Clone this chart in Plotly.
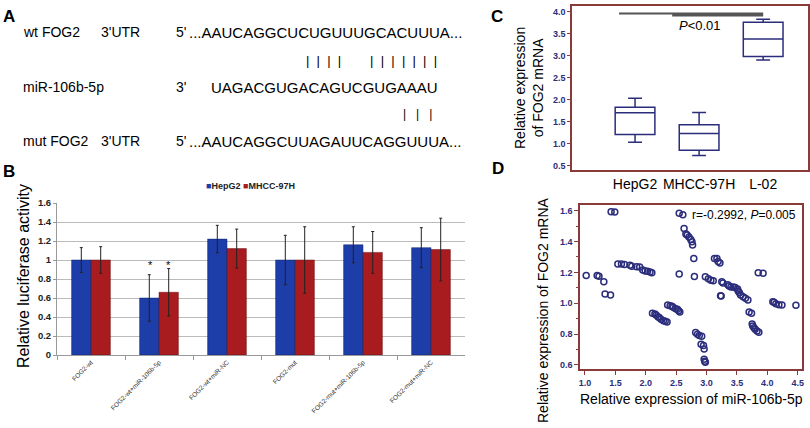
import plotly.graph_objects as go

W, H = 810, 428
FONT = "Arial, Liberation Sans, sans-serif"
NAVY = "#2B2D7C"
BROWN = "#8B3A3A"
BLUE = "#1D3DA8"
RED = "#A81C20"

# ---- panel A: sequence alignment text
a_labels = ["wt FOG2", "miR-106b-5p", "mut FOG2"]
a_utr = ["3'UTR", "", "3'UTR"]
a_ends = ["5'", "3'", "5'"]
a_seqs = ["...AAUCAGGCUCUGUUUGCACUUUA...",
          "UAGACGUGACAGUCGUGAAAU",
          "...AAUCAGGCUUAGAUUCAGGUUUA..."]

# ---- panel B: luciferase activity
groups = ["FOG2-wt", "FOG2-wt+miR-106b-5p", "FOG2-wt+miR-NC",
          "FOG2-mut", "FOG2-mut+miR-106b-5p", "FOG2-mut+miR-NC"]
hepg2 = [1.0, 0.60, 1.22, 1.0, 1.16, 1.13]
hepg2_err = [0.13, 0.245, 0.145, 0.26, 0.19, 0.21]
mhcc = [1.0, 0.66, 1.12, 1.0, 1.08, 1.11]
mhcc_err = [0.14, 0.25, 0.205, 0.35, 0.22, 0.33]
sig = ["", "*", "", "", "", ""]

# ---- panel C: FOG2 mRNA in cell lines
cells = ["HepG2", "MHCC-97H", "L-02"]
c_low = [1.03, 0.73, 2.90]
c_q1 = [1.21, 0.85, 2.98]
c_med = [1.70, 1.23, 3.38]
c_q3 = [1.83, 1.43, 3.76]
c_high = [2.03, 1.71, 3.83]

# ---- panel D: correlation
mir = [1.02, 1.20, 1.23, 1.31, 1.33, 1.42, 1.43, 1.49,
       1.54, 1.60, 1.65, 1.74, 1.77, 1.85, 1.90, 1.95, 1.99, 2.03, 2.07, 2.10,
       2.11, 2.15, 2.17, 2.20, 2.22, 2.25, 2.29, 2.32, 2.35,
       2.36, 2.40, 2.43, 2.45, 2.49, 2.52, 2.54, 2.56,
       2.55, 2.61, 2.63, 2.66, 2.68, 2.71, 2.74, 2.76, 2.77, 2.55, 2.79, 2.80,
       2.82, 2.85, 2.88, 2.92, 2.91, 2.95, 2.96, 2.96, 2.97, 2.98,
       2.98, 3.03, 3.07, 3.11,
       3.13, 3.17, 3.19, 3.22, 3.23, 3.24, 3.25, 3.27,
       3.35, 3.37, 3.40, 3.44, 3.47, 3.51, 3.52, 3.54, 3.56, 3.60, 3.64, 3.68,
       3.70, 3.74,
       3.75, 3.76, 3.78, 3.80, 3.83, 3.86,
       3.85, 3.93,
       4.09, 4.11, 4.14, 4.19, 4.24, 4.47]
fog2 = [1.18, 1.18, 1.175, 1.14, 1.06, 1.054, 1.594, 1.592,
        1.255, 1.255, 1.252, 1.246, 1.24, 1.237, 1.235, 1.216, 1.21, 1.207, 1.203, 1.198,
        0.935, 0.93, 0.924, 0.913, 0.907, 0.896, 0.887, 0.883, 0.879,
        0.989, 0.984, 0.98, 0.974, 0.965, 0.961, 0.952, 0.943,
        1.583, 1.574, 1.485, 1.449, 1.442, 1.429, 1.414, 1.399, 1.378, 1.19, 1.29, 1.173,
        0.811, 0.799, 0.791, 0.787, 0.735, 0.726, 0.703, 0.638, 0.625, 0.617,
        1.172, 1.159, 1.15, 1.146,
        1.29, 1.29, 1.27, 1.261, 1.049, 1.047, 1.14, 1.131,
        1.12, 1.112, 1.106, 1.106, 1.103, 1.092, 1.079, 1.068, 1.054, 1.043, 1.032, 1.021,
        0.943, 0.935,
        0.866, 0.853, 0.842, 0.831, 0.82, 0.812,
        1.198, 1.194,
        1.01, 1.006, 0.997, 0.991, 0.989, 0.987]


def px(x):
    return x / W


def py(y):
    return 1 - y / H


def txt(x, y, text, size, anchor="center", **kw):
    # free text placed by pixel position on the page
    return dict(x=px(x), y=py(y), xref="paper", yref="paper", text=text,
                xanchor=anchor, yanchor="middle", showarrow=False, borderpad=0,
                font=dict(size=size, family=FONT, color=kw.pop("color", "black"),
                          weight=kw.pop("weight", "normal")), **kw)


fig = go.Figure()

# bars
fig.add_trace(go.Bar(x=groups, y=hepg2, name="HepG2", showlegend=False,
                     marker=dict(color=BLUE, line=dict(color="#10246E", width=0.5)),
                     error_y=dict(type="data", array=hepg2_err, color="#222", thickness=1, width=1.5),
                     xaxis="x", yaxis="y"))
fig.add_trace(go.Bar(x=groups, y=mhcc, name="MHCC-97H", showlegend=False,
                     marker=dict(color=RED, line=dict(color="#6B1012", width=0.5)),
                     error_y=dict(type="data", array=mhcc_err, color="#222", thickness=1, width=1.5),
                     xaxis="x", yaxis="y"))

# boxes
fig.add_trace(go.Box(x=cells, lowerfence=c_low, q1=c_q1, median=c_med, q3=c_q3,
                     upperfence=c_high, width=0.62, whiskerwidth=0.35,
                     line=dict(color=NAVY, width=1.5), fillcolor="white",
                     showlegend=False, xaxis="x2", yaxis="y2"))

# scatter
fig.add_trace(go.Scatter(x=mir, y=fog2, mode="markers",
                         marker=dict(symbol="circle-open", size=6, color=NAVY,
                                     line=dict(width=1.5, color=NAVY)),
                         showlegend=False, xaxis="x3", yaxis="y3"))

ann = []
# panel letters
for letter, (lx, ly) in zip("ABCD", [(9, 16), (9, 171), (497, 16), (498, 169)]):
    ann.append(txt(lx, ly, letter, 17, weight="bold"))

# panel A text
rows_y = [32, 87, 141]
for lab, utr, end, seq, ry in zip(a_labels, a_utr, a_ends, a_seqs, rows_y):
    ann.append(txt(22, ry, lab, 14, "left"))
    if utr:
        ann.append(txt(100, ry, utr, 14, "left"))
    ann.append(txt(175, ry, end, 14, "left"))
    ann.append(txt(210 if end == "3'" else 188, ry, seq, 15, "left"))

nb = "\u00a0"
wt_pipes = (nb * 2).join("|" * 4) + nb * 8 + (nb * 2).join("|" * 7)
mut_pipes = (nb * 3).join("|" * 3)
ann.append(txt(305, 60, wt_pipes, 13, "left"))
ann.append(txt(402, 114, mut_pipes, 12, "left"))

# legend for panel B
ann.append(txt(250, 186, f"<span style='color:{BLUE}'>■</span>HepG2 "
                          f"<span style='color:{RED}'>■</span>MHCC-97H",
               9, color="#222", weight="bold"))

# significance stars on panel B
for g, s in zip(groups, sig):
    if s:
        for shift in (-9, 9):
            ann.append(dict(x=g, y=0.95, xref="x", yref="y", text=s, xshift=shift,
                            yanchor="middle", showarrow=False,
                            font=dict(size=11, family=FONT, color="black")))

# titles drawn as rotated text
ann.append(txt(23, 276, "Relative luciferase activity", 16, textangle=-90))
ann.append(txt(529, 88, "Relative expression<br>of FOG2 mRNA", 14, textangle=-90))
ann.append(txt(543, 310, "Relative expression of FOG2 mRNA", 14, textangle=-90))
ann.append(txt(691, 399, "Relative expression of miR-106b-5p", 14))
ann.append(txt(700, 25, "<i>P</i>&lt;0.01", 13))
ann.append(txt(797, 215, "r=-0.2992, <i>P</i>=0.005", 12, "right"))

shapes = [
    dict(type="line", xref="x2", yref="y2", x0=-0.25, x1=2.0, y0=3.96, y1=3.96,
         line=dict(color="#555", width=2)),
    dict(type="line", xref="x2", yref="y2", x0=0.58, x1=2.0, y0=3.92, y1=3.92,
         line=dict(color="#555", width=2.5)),
]

tick_b = dict(size=9.5, family=FONT, color="#222", weight="bold")
tick_n = dict(size=9, family=FONT, color=NAVY, weight="bold")

fig.update_layout(
    width=W, height=H, margin=dict(l=0, r=0, t=0, b=0, pad=0),
    paper_bgcolor="white", plot_bgcolor="white",
    font=dict(family=FONT, color="black"),
    barmode="group", bargap=0.43, bargroupgap=0, showlegend=False,
    xaxis=dict(domain=[px(57), px(465)], anchor="y", automargin=False, showgrid=False,
               showline=True, linecolor="#999",
               ticks="outside", tickson="boundaries", ticklen=4, tickcolor="#999",
               tickangle=-45, tickfont=dict(size=6.5, family=FONT, color="#333")),
    yaxis=dict(domain=[py(355), py(203)], anchor="x", range=[0, 1.6], dtick=0.2,
               automargin=False,
               showline=True, linecolor="#999", ticks="outside", ticklen=3, tickcolor="#999",
               showgrid=True, gridcolor="#BBBBBB", gridwidth=1, zeroline=False, tickfont=tick_b),
    xaxis2=dict(domain=[px(572), px(808)], anchor="y2", range=[-0.984, 2.70], automargin=False,
                showgrid=False, tickangle=0,
                showline=True, mirror=True, linecolor=BROWN, linewidth=1.5, ticks="",
                tickfont=dict(size=14, family=FONT, color="black")),
    yaxis2=dict(domain=[py(170), py(6)], anchor="x2", range=[0.4, 4.13], dtick=0.5,
                automargin=False,
                tickformat=".1f", showline=True, mirror=True, linecolor=BROWN, linewidth=1.5,
                ticks="outside", ticklen=3, tickcolor=BROWN, showgrid=False, zeroline=False,
                tickfont=tick_n),
    xaxis3=dict(domain=[px(580), px(802)], anchor="y3", range=[0.918, 4.57], dtick=0.5,
                automargin=False, tickangle=0,
                tickformat=".1f", showline=True, mirror=True, linecolor=BROWN, linewidth=1.5,
                ticks="outside", ticklen=4, tickcolor=BROWN, showgrid=False, zeroline=False,
                tickfont=tick_n),
    yaxis3=dict(domain=[py(369), py(205)], anchor="x3", range=[0.574, 1.637], dtick=0.2,
                automargin=False,
                tickformat=".1f", showline=True, mirror=True, linecolor=BROWN, linewidth=1.5,
                ticks="outside", ticklen=4, tickcolor=BROWN, showgrid=False, zeroline=False,
                minor=dict(dtick=0.1, ticks="outside", ticklen=2, tickcolor=BROWN),
                tickfont=tick_n),
    annotations=ann, shapes=shapes,
)

# the page's default body margin would shift the figure by 8px
fig.write_html("out.html", config={"displayModeBar": False},
               post_script="document.body.style.margin='0px';")
